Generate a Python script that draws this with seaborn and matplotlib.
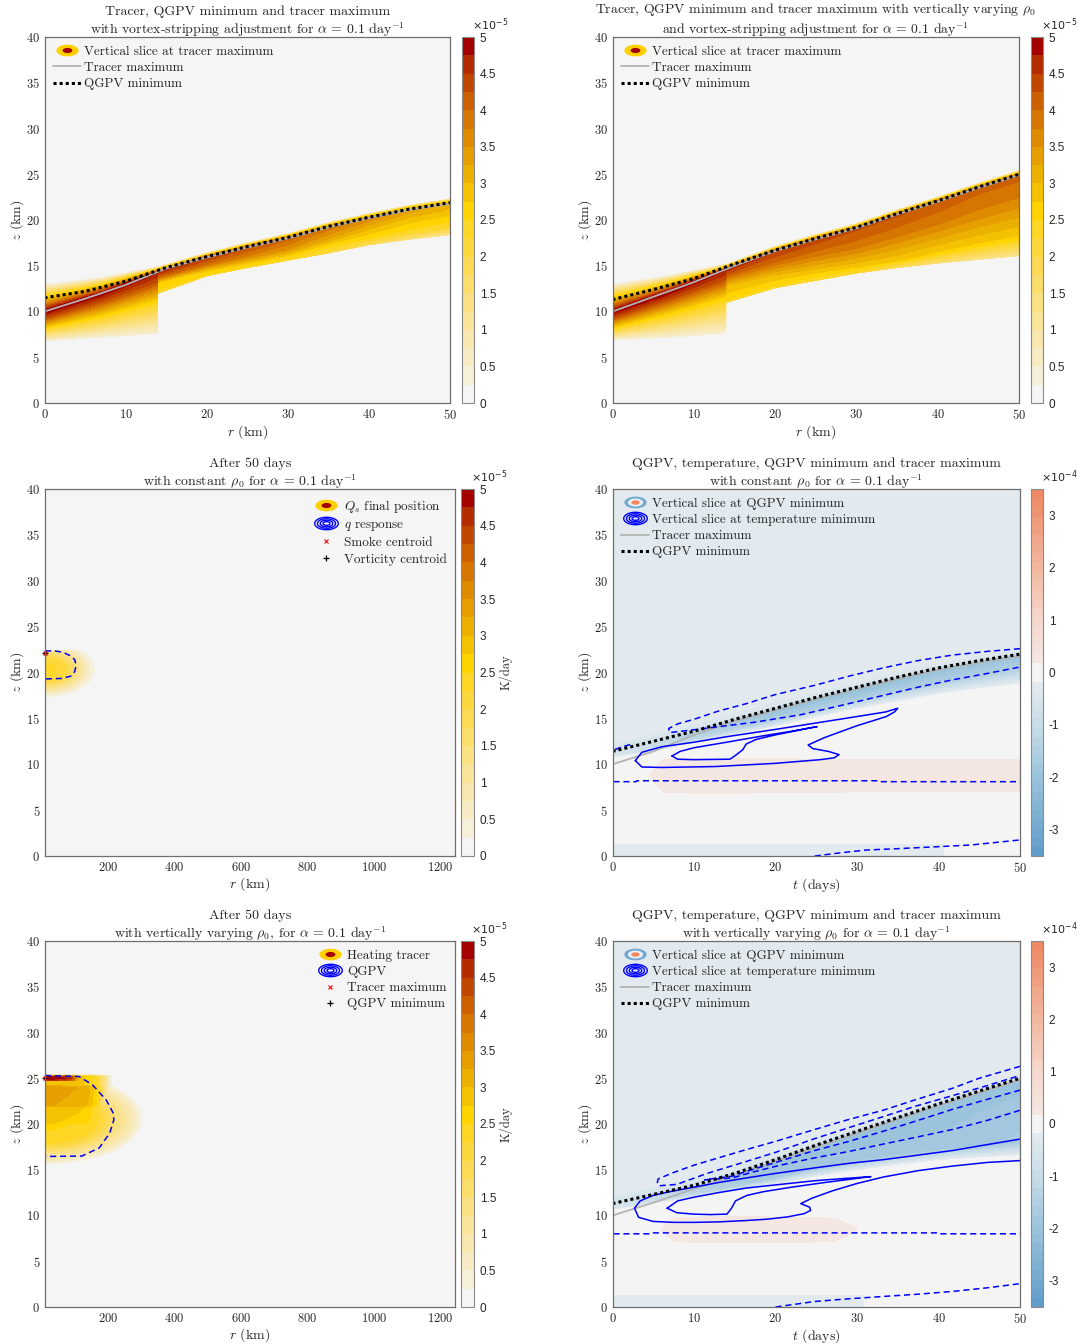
import numpy as np
import matplotlib
matplotlib.use('Agg')
import matplotlib.pyplot as plt
import seaborn as sns
from matplotlib.colors import ListedColormap, LinearSegmentedColormap
from matplotlib.lines import Line2D
from matplotlib.path import Path

sns.set_style('white')
plt.rcParams['font.family'] = ['serif']
plt.rcParams['font.serif'] = ['cmr10']
plt.rcParams['mathtext.fontset'] = 'cm'
plt.rcParams['axes.unicode_minus'] = False
plt.rcParams['axes.formatter.use_mathtext'] = True

## DATA ##

# knots along the rising layer (days or km, as labelled on each panel)
t_knots = [0, 5, 10, 15, 20, 25, 30, 35, 40, 45, 50]

# top row: heights (km) of QGPV minimum and tracer maximum
qgpv_min_const = [11.5, 12.2, 13.3, 14.8, 16.0, 17.1, 18.1, 19.3, 20.3, 21.2, 21.9]
tracer_max_const = [10.0, 11.4, 12.9, 14.7, 15.9, 17.0, 18.0, 19.2, 20.2, 21.1, 21.8]
qgpv_min_vary = [11.3, 12.4, 13.6, 15.2, 16.7, 18.0, 19.2, 20.7, 22.1, 23.6, 25.0]
tracer_max_vary = [10.0, 11.6, 13.2, 15.0, 16.6, 17.9, 19.1, 20.6, 22.0, 23.5, 24.9]

# tracer slice profile knots (heights in km, values in 1e-5)
slice_x = [0, 7, 13.9, 14.0, 20, 25, 30, 35, 40, 45, 50]
top_du = [1.6, 0.9, 0.3, 0.3, 0.3, 0.3, 0.3, 0.3, 0.3, 0.3, 0.3]
top_dt = [3.1, 1.8, 0.6, 0.6, 0.55, 0.55, 0.55, 0.55, 0.55, 0.55, 0.55]

c_peak = [5.0, 5.0, 4.8, 4.7, 4.5, 4.3, 4.1, 3.9, 3.7, 3.4, 3.2]
c_dl1 = [0.8, 1.0, 1.2, 0.6, 0.8, 1.0, 1.2, 1.2, 1.0, 1.0, 1.2]
c_v1 = [4.2, 4.2, 4.2, 4.0, 3.9, 3.7, 3.5, 3.3, 3.1, 2.9, 2.8]
c_dl2 = [1.8, 2.4, 3.0, 1.2, 1.4, 1.8, 2.0, 2.0, 2.2, 2.4, 2.5]
c_v2 = [2.6, 2.7, 2.7, 2.7, 2.8, 2.7, 2.6, 2.6, 2.5, 2.4, 2.3]
c_bot = [6.8, 7.2, 7.6, 12.0, 13.9, 14.8, 15.6, 16.4, 17.3, 17.9, 18.4]
c_vbot = [0.4, 0.4, 0.4, 2.4, 2.4, 2.4, 2.3, 2.1, 1.8, 1.4, 1.2]

v_peak = [5.0, 5.0, 4.8, 4.7, 4.5, 4.4, 4.3, 4.3, 4.2, 4.1, 4.1]
v_dl1 = [0.8, 1.0, 1.2, 0.8, 1.2, 1.6, 2.0, 2.3, 2.5, 2.7, 2.8]
v_v1 = [4.2, 4.2, 4.2, 4.0, 4.0, 3.9, 3.85, 3.8, 3.75, 3.7, 3.7]
v_dl2 = [1.8, 2.4, 3.0, 1.8, 2.6, 3.4, 4.2, 5.0, 5.6, 6.2, 6.8]
v_v2 = [2.6, 2.7, 2.7, 3.0, 3.0, 2.9, 2.8, 2.8, 2.7, 2.7, 2.7]
v_bot = [6.9, 7.2, 7.6, 11.0, 12.6, 13.4, 14.2, 14.8, 15.3, 15.7, 16.1]
v_vbot = [0.4, 0.4, 0.4, 2.4, 2.4, 2.3, 2.2, 1.8, 1.5, 1.3, 1.2]

# heating blobs after 50 days: (r centre, z centre, r radius, up radius, down radius, top cut)
blob_c_shape = (10.6, 20.3, 148, 3.0, 2.9, 22.45)
blob_c_d = [0, 0.2, 0.45, 0.6, 0.75, 0.9, 1.0, 1.05]
blob_c_v = [2.35, 2.28, 2.0, 1.5, 1.0, 0.5, 0.25, 0.0]
blob_v_shape = (10.6, 20.5, 288, 5.0, 4.8, 25.4)
blob_v_d = [0, 0.5, 0.6, 0.7, 0.8, 0.9, 1.0, 1.04]
blob_v_v = [2.6, 2.4, 2.1, 1.6, 1.2, 0.8, 0.3, 0.0]
# heating tracer piled under its top (z profile times r taper)
cap_v_z = [19.5, 20.1, 21.9, 22.0, 24.0, 24.2, 25.2, 25.4]
cap_v_h = [0.0, 2.8, 3.0, 3.3, 3.45, 3.0, 3.0, 0.0]
cap_v_r = [10.6, 80, 110, 140, 165, 190, 215]
cap_v_k = [1.0, 0.96, 0.94, 0.9, 0.75, 0.4, 0.0]
# thin maximum just under the top
lid_v_z = [24.6, 24.8, 25.0, 25.2, 25.4]
lid_v_h = [0.0, 4.6, 5.0, 4.8, 0.0]
lid_v_r = [10.6, 60, 90, 120, 140]
lid_v_k = [1.0, 0.97, 0.9, 0.5, 0.0]

# q response contours (dashed) and centroids
qresp_c_r = [10.6, 40, 65, 88, 100, 104, 100, 88, 60, 10.6]
qresp_c_z = [22.35, 22.35, 22.2, 21.8, 21.4, 20.8, 20.1, 19.6, 19.35, 19.3]
qresp_v_r = [10.6, 112, 153, 195, 215.6, 217.6, 205, 174, 122, 10.6]
qresp_v_z = [25.3, 25.2, 24.3, 22.6, 21.2, 20.45, 19.0, 17.4, 16.5, 16.45]
centroid_c = (12, 22.1)
centroid_v = (12, 25.0)

# right column: QGPV (1e-4) band and temperature contours
qgpv_line_c = [11.4, 12.5, 13.6, 14.9, 16.1, 17.3, 18.4, 19.5, 20.5, 21.3, 22.0]
tracer_line_c = [10.0, 11.4, 13.2, 14.7, 15.9, 17.1, 18.2, 19.3, 20.3, 21.1, 21.8]
band_lo_c = [10.6, 11.3, 12.2, 13.1, 14.0, 15.0, 15.9, 16.7, 17.5, 18.1, 18.6]
band_pk_c = [-0.5, -1.0, -1.6, -1.9, -2.1, -2.2, -2.2, -2.2, -2.1, -2.1, -2.0]
band_d1_c = [0.6, 0.9, 1.0, 1.2, 1.3, 1.4, 1.5, 1.6, 1.7, 1.8, 1.9]
band_v1_c = [-0.4, -0.8, -1.1, -1.3, -1.5, -1.5, -1.5, -1.5, -1.5, -1.4, -1.3]
band_up_c = [-0.7, -0.7, -0.6, -0.5, -0.45, -0.4, -0.4, -0.4, -0.4, -0.4, -0.4]
pink_c_t = [2.0, 4.0, 7.0, 12, 30, 50]
pink_c_f = [0.0, 0.5, 0.9, 1.0, 0.8, 0.8]
pink_c_z = [6.2, 7.0, 8.8, 10.5, 11.2]
pink_c_g = [0.0, 0.75, 1.0, 0.75, 0.0]
strip_c = (40.8, 1.35)

qgpv_line_v = [11.3, 12.3, 13.3, 14.6, 16.1, 17.7, 19.2, 20.7, 22.2, 23.6, 25.0]
tracer_line_v = [10.0, 11.4, 12.9, 14.4, 15.9, 17.5, 19.0, 20.5, 22.0, 23.4, 24.8]
band_lo_v = [10.5, 11.2, 11.9, 12.6, 13.3, 14.1, 14.8, 15.4, 15.9, 16.2, 16.4]
band_pk_v = [-0.5, -1.0, -1.5, -1.8, -2.0, -2.1, -2.1, -2.1, -2.1, -2.0, -2.0]
band_d1_v = [0.6, 0.8, 1.0, 1.5, 2.0, 2.5, 3.2, 4.0, 5.0, 6.0, 7.0]
band_v1_v = [-0.4, -0.8, -1.2, -1.5, -1.7, -1.8, -1.8, -1.8, -1.8, -1.8, -1.7]
band_up_v = [-0.7, -0.7, -0.6, -0.5, -0.45, -0.4, -0.4, -0.4, -0.4, -0.4, -0.4]
pink_v_t = [3.5, 6.0, 10, 16, 24, 30, 34]
pink_v_f = [0.0, 0.6, 0.95, 1.0, 0.9, 0.6, 0.0]
pink_v_z = [6.5, 7.2, 8.5, 9.7, 10.3]
pink_v_g = [0.0, 0.8, 1.0, 0.8, 0.0]
strip_v = (31.0, 1.35)

# temperature contours, constant rho0 (t days, z km)
tc_edge = ([0.12, 0.12], [0, 40])
tc_neg_loop = ([50, 46, 41.7, 37.5, 33.2, 29, 24.8, 20, 16.4, 13, 10, 8, 6.9, 7.0, 8.5, 12.2, 17.6,
                23.1, 28, 33.2, 37.5, 41.7, 46, 50],
               [22.6, 22.3, 21.9, 21.3, 20.5, 19.6, 18.6, 17.6, 16.6, 15.8, 14.9, 14.4, 13.9, 13.45,
                13.6, 14.0, 14.6, 15.4, 16.4, 17.5, 18.4, 19.2, 19.9, 20.6])
tc_neg_small = ([0.3, 1.2, 2.4], [11.6, 11.9, 12.2])
tc_neg_mid = ([0.12, 2.9, 3.0, 32.6, 32.7, 50], [8.1, 8.1, 8.2, 8.2, 8.1, 8.1])
tc_neg_bot = ([24.8, 28, 31.1, 35, 39.6, 44, 50], [0.0, 0.35, 0.65, 0.8, 1.0, 1.2, 1.75])
tc_pos_outer = ([2.8, 3.6, 6.0, 10.0, 14.0, 20.0, 25.0, 30.0, 33.5, 35.0, 34.6, 33.6, 30.0, 26.0, 24.0,
                 24.6, 26.5, 27.8, 27.2, 25.5, 20.0, 12.6, 6.0, 3.6, 2.8],
                [10.4, 11.3, 11.9, 12.4, 13.0, 13.8, 14.5, 15.2, 15.7, 16.1, 15.7, 15.2, 14.2, 12.9, 12.1,
                 11.7, 11.4, 11.05, 10.7, 10.5, 10.1, 9.75, 9.65, 9.7, 10.4])
tc_pos_inner = ([7.3, 8.3, 10.0, 14.0, 18.5, 22.0, 25.1, 23.9, 20.0, 17.6, 16.4, 16.0, 15.0, 14.4, 10.0,
                 8.0, 7.3],
                [10.9, 11.4, 11.8, 12.4, 13.1, 13.6, 14.1, 13.9, 13.2, 12.7, 12.2, 11.6, 10.9, 10.55,
                 10.5, 10.55, 10.9])

# temperature contours, vertically varying rho0
tv_edge = ([0.12, 0.12], [0, 40])
tv_neg_loop = ([50, 45, 41.7, 37, 33.2, 29, 24.8, 20, 16.4, 13, 10, 7.5, 5.6, 5.5, 5.7, 7.9, 11.6, 16.4,
                20, 24.8, 29, 33.2, 37, 41.7, 46, 50],
               [26.3, 25.0, 23.9, 22.6, 21.5, 20.5, 19.4, 18.1, 17.2, 16.3, 15.5, 14.7, 14.0, 13.6, 13.25,
                13.4, 14.6, 15.9, 16.9, 18.4, 19.6, 20.8, 21.9, 23.1, 24.2, 25.3])
tv_neg_b = ([50, 46, 41.7, 37.5, 33.2, 29, 24.8, 20, 16.4, 14.7, 11.3, 14.7, 17, 20.6, 24.8, 29, 33.2,
             37.5, 41.7, 46, 50],
            [23.7, 22.7, 21.6, 20.4, 19.2, 18.1, 17.1, 15.8, 14.8, 14.3, 13.9, 14.1, 14.7, 15.5, 16.3,
             17.0, 17.8, 18.6, 19.4, 20.4, 21.5])
tv_neg_mid = ([0.12, 4.5, 4.6, 40.0, 40.1, 50], [8.0, 8.0, 8.1, 8.1, 8.0, 8.0])
tv_neg_bot = ([20, 24.8, 29, 33.2, 37.5, 41.7, 46, 50], [0.0, 0.6, 0.9, 1.15, 1.4, 1.7, 2.1, 2.55])
tv_pos_outer = ([50, 45, 41.7, 37.5, 33.2, 29, 24.8, 20, 16.4, 13, 10, 7, 5, 3.4, 2.7, 3.2, 5, 7.5, 10, 13,
                 16.4, 19, 21.5, 23.5, 24.3, 24.2, 23.1, 24.5, 27, 30, 33.2, 37.5, 41.7, 46, 50],
                [18.35, 17.6, 17.1, 16.6, 16.1, 15.7, 15.2, 14.6, 14.1, 13.6, 13.1, 12.6, 12.2, 11.6,
                 10.8, 9.8, 9.35, 9.25, 9.25, 9.3, 9.45, 9.6, 9.85, 10.2, 10.55, 10.9, 11.3, 11.9, 12.7,
                 13.5, 14.2, 14.9, 15.4, 15.8, 16.0])
tv_pos_inner = ([6.7, 8, 10, 13, 16.4, 20.6, 24.8, 28.5, 31.7, 29.5, 26, 22, 18.5, 16.5, 15.1, 14.6,
                 14.05, 12, 10, 7.9, 6.7],
                [10.8, 11.6, 12.0, 12.5, 13.0, 13.4, 13.8, 14.05, 14.25, 14.0, 13.6, 13.1, 12.6, 12.2,
                 11.6, 10.8, 10.15, 10.1, 10.15, 10.3, 10.8])

## STYLE ##
W, H = 1077, 1344
TXT = '#262626'
BG = '#f5f5f5'
tracer_colors = ['#f5f5f5', '#f6efd9', '#f7ebc4', '#f8e7ae', '#f9e499', '#fae183', '#fbdd6c',
                 '#fcda55', '#fdd83d', '#fed626', '#ffd400', '#f4c200', '#ecb100', '#e59f00',
                 '#de8b00', '#d67600', '#cc5f00', '#c14600', '#b42b00', '#a30000']
cmap_tr = ListedColormap(tracer_colors)
lev_tr = np.linspace(0, 5, 21)
div = LinearSegmentedColormap.from_list('div', [
    (0.0, '#5f9bc8'), (0.214, '#9bc3dc'), (0.357, '#c8dce8'), (0.4625, '#e2eaef'),
    (0.4875, '#f5f5f5'), (0.5125, '#f5f5f5'), (0.5375, '#f4e6e1'), (0.643, '#f5d7cd'),
    (0.786, '#f2b9a0'), (1.0, '#ee8660')])
lev_q = np.linspace(-3.5, 3.5, 41)
cmap_q = ListedColormap(div((np.arange(40) + 0.5) / 40))


def box(x0, x1, y0, y1):
    return [x0 / W, 1 - y1 / H, (x1 - x0) / W, (y1 - y0) / H]


def column_field(x, z, xk, layers, below=0.0, above=0.0):
    lz = [np.interp(x, xk, np.asarray(a, float)) for a, _ in layers]
    lv = [np.interp(x, xk, np.broadcast_to(np.asarray(v, float), (len(xk),))) for _, v in layers]
    out = np.empty((len(z), len(x)))
    for j in range(len(x)):
        out[:, j] = np.interp(z, [a[j] for a in lz], [v[j] for v in lv], left=below, right=above)
    return out


def blob_field(r, z, shape, d_knots, v_knots):
    rc, zc, rr_, rup, rdn, ztop = shape
    dz = z[:, None] - zc
    dz = np.where(dz > 0, dz / rup, dz / rdn)
    d = np.hypot((r[None, :] - rc) / rr_, dz)
    val = np.interp(d, d_knots, v_knots, right=0.0)
    val[np.broadcast_to(z[:, None] > ztop, val.shape)] = 0.0
    return val


def tapered(r, z, zk, hk, rk, kk):
    return np.outer(np.interp(z, zk, hk, left=0, right=0), np.interp(r, rk, kk, right=0))


theta = np.linspace(0, 2 * np.pi, 61)
ell = Path(np.column_stack([1.9 * np.cos(theta), np.sin(theta)]))


def ell_marker(size, face, edge='none', mew=1.0):
    return Line2D([], [], ls='', marker=ell, ms=size, mfc=face, mec=edge, mew=mew)


h_tracer = (ell_marker(16, '#ffd000'), ell_marker(7, '#a30000'))
h_qgpv = (ell_marker(16, '#6fa8d1'), ell_marker(11, '#e9eef2'), ell_marker(6, '#f08a5c'))
h_rings = tuple(ell_marker(s, 'none', 'blue', 1.0) for s in (17, 13, 9, 5))
h_gray = Line2D([], [], color='#b3b3b3', lw=1.3)
h_dot = Line2D([], [], color='k', lw=2.2, ls=(0, (1, 1)))
h_x = Line2D([], [], ls='', marker='x', color='red', ms=3.2, mew=0.8)
h_plus = Line2D([], [], ls='', marker='+', color='k', ms=4.5, mew=0.9)
leg_kw = dict(frameon=False, fontsize=9.5, numpoints=1, handlelength=2.1, handletextpad=0.25,
              labelspacing=0.3, borderaxespad=0.35, borderpad=0.3)


def style_axes(ax, xlim, xticks, xlabel):
    ax.set_facecolor(BG)
    ax.set_xlim(*xlim)
    ax.set_ylim(0, 40)
    ax.set_xticks(xticks)
    ax.set_yticks(np.arange(0, 41, 5))
    ax.tick_params(length=0, labelsize=9, colors=TXT, pad=3.5)
    for s in ax.spines.values():
        s.set_color('#6e6e6e')
        s.set_linewidth(0.9)
    ax.set_xlabel(xlabel, fontsize=10, color=TXT, labelpad=1)
    ax.set_ylabel('$z$ (km)', fontsize=10, color=TXT, labelpad=0)


def add_cbar(cs, cax, ticks, labels, expo, label=None):
    cb = fig.colorbar(cs, cax=cax, ticks=ticks)
    cb.set_ticklabels(labels)
    cb.outline.set_edgecolor('#8a8a8a')
    cb.outline.set_linewidth(0.8)
    cax.tick_params(direction='in', length=3, width=0.6, colors=TXT, labelsize=8.5, pad=4)
    for t in cax.get_yticklabels():
        t.set_fontfamily('Liberation Sans')
    cax.text(0.8, 1.012, r'$\times10^{%d}$' % expo, transform=cax.transAxes, ha='left', va='bottom',
             fontsize=8, color=TXT, math_fontfamily='dejavusans')
    if label:
        cb.set_label(label, fontsize=9, color=TXT, labelpad=2)


def title(ax, text, size=10):
    ax.set_title(text, fontsize=size, color=TXT, pad=2.5, linespacing=1.15)


fig = plt.figure(figsize=(W / 100, H / 100), dpi=100)

tr_ticks = np.arange(0, 5.01, 0.5)
tr_labels = ['0', '0.5', '1', '1.5', '2', '2.5', '3', '3.5', '4', '4.5', '5']
q_ticks = [-3, -2, -1, 0, 1, 2, 3]
q_labels = ['-3', '-2', '-1', '0', '1', '2', '3']
alpha_txt = r'$\alpha\, =\, 0.1$ day$^{-1}$'

# ---- top row: tracer slices ----
xs = np.linspace(0, 50, 501)
zs = np.linspace(0, 40, 1601)
top_rows = [
    (box(44.5, 450, 37, 403), box(462, 474, 37, 403), qgpv_min_const, tracer_max_const,
     (c_peak, c_dl1, c_v1, c_dl2, c_v2, c_bot, c_vbot),
     'Tracer, QGPV minimum and tracer maximum\nwith vortex-stripping adjustment for ' + alpha_txt, 10),
    (box(612.5, 1019, 37, 403), box(1031, 1043, 37, 403), qgpv_min_vary, tracer_max_vary,
     (v_peak, v_dl1, v_v1, v_dl2, v_v2, v_bot, v_vbot),
     r'Tracer, QGPV minimum and tracer maximum with vertically varying $\rho_0$' + '\nand vortex-stripping adjustment for ' + alpha_txt, 9.9),
]
for pos, cpos, qline, tline, prof, ttl, tsize in top_rows:
    ax = fig.add_axes(pos)
    cax = fig.add_axes(cpos)
    peak_v, dl1, v1, dl2, v2, bot, vbot = [np.asarray(p, float) for p in prof]
    zpk = np.interp(slice_x, t_knots, tline)
    layers = [(bot - 0.03, 0.0), (bot, vbot), (zpk - dl2, v2), (zpk - dl1, v1), (zpk, peak_v),
              (zpk + np.asarray(top_du), 2.5), (zpk + np.asarray(top_dt), 0.0)]
    fld = column_field(xs, zs, slice_x, layers)
    cs = ax.contourf(xs, zs, fld, levels=lev_tr, cmap=cmap_tr)
    ax.plot(t_knots, tline, color='#b3b3b3', lw=1.3)
    ax.plot(t_knots, qline, color='k', lw=2.2, ls=(0, (1, 1)))
    style_axes(ax, (0, 50), np.arange(0, 51, 10), '$r$ (km)')
    title(ax, ttl, tsize)
    ax.legend([h_tracer, h_gray, h_dot], ['Vertical slice at tracer maximum', 'Tracer maximum', 'QGPV minimum'],
              loc='upper left', **leg_kw)
    add_cbar(cs, cax, tr_ticks, tr_labels, -5)

# ---- left column, rows 2-3: blobs after 50 days ----
rr = np.linspace(10.6, 1243, 900)
zb = np.linspace(0, 40, 1601)
fld_c = blob_field(rr, zb, blob_c_shape, blob_c_d, blob_c_v)
fld_v = np.maximum.reduce([blob_field(rr, zb, blob_v_shape, blob_v_d, blob_v_v),
                           tapered(rr, zb, cap_v_z, cap_v_h, cap_v_r, cap_v_k),
                           tapered(rr, zb, lid_v_z, lid_v_h, lid_v_r, lid_v_k)])
blob_rows = [
    (box(45, 455, 489, 856), box(461, 474, 489, 856), fld_c, (qresp_c_r, qresp_c_z), centroid_c,
     'After 50 days\n' + r'with constant $\rho_0$ for ' + alpha_txt,
     [r'$Q_s$ final position', r'$q$ response', 'Smoke centroid', 'Vorticity centroid']),
    (box(45, 455, 941, 1307), box(461, 474, 941, 1307), fld_v, (qresp_v_r, qresp_v_z), centroid_v,
     'After 50 days\n' + r'with vertically varying $\rho_0$, for ' + alpha_txt,
     ['Heating tracer', 'QGPV', 'Tracer maximum', 'QGPV minimum']),
]
for pos, cpos, fld, qresp, cen, ttl, labels in blob_rows:
    ax = fig.add_axes(pos)
    cax = fig.add_axes(cpos)
    cs = ax.contourf(rr, zb, fld, levels=lev_tr, cmap=cmap_tr)
    ax.plot(*qresp, color='blue', lw=1.1, ls=(0, (4, 2.5)))
    ax.plot(*cen, ls='', marker='x', color='red', ms=3.5, mew=0.9, clip_on=False)
    ax.plot(*cen, ls='', marker='+', color='#3a0000', ms=5, mew=1.0, clip_on=False)
    style_axes(ax, (10.6, 1243), np.arange(200, 1201, 200), '$r$ (km)')
    title(ax, ttl)
    ax.legend([h_tracer, h_rings, h_x, h_plus], labels, loc='upper right', **leg_kw)
    add_cbar(cs, cax, tr_ticks, tr_labels, -5, 'K/day')

# ---- right column, rows 2-3: QGPV and temperature ----
tt = np.linspace(0, 50, 501)
zq = np.linspace(0, 40, 1601)
TT, ZQ = np.meshgrid(tt, zq)
q_rows = [
    (box(612.5, 1020, 489, 856), box(1031, 1043, 489, 856), qgpv_line_c, tracer_line_c,
     (band_lo_c, band_d1_c, band_v1_c, band_pk_c, band_up_c),
     (pink_c_t, pink_c_f, pink_c_z, pink_c_g), strip_c,
     [tc_neg_loop, tc_neg_small, tc_neg_mid, tc_neg_bot, tc_edge], [tc_pos_outer, tc_pos_inner],
     'QGPV, temperature, QGPV minimum and tracer maximum\n' + r'with constant $\rho_0$ for ' + alpha_txt),
    (box(612.5, 1020, 941, 1307), box(1031, 1043, 941, 1307), qgpv_line_v, tracer_line_v,
     (band_lo_v, band_d1_v, band_v1_v, band_pk_v, band_up_v),
     (pink_v_t, pink_v_f, pink_v_z, pink_v_g), strip_v,
     [tv_neg_loop, tv_neg_b, tv_neg_mid, tv_neg_bot, tv_edge], [tv_pos_outer, tv_pos_inner],
     'QGPV, temperature, QGPV minimum and tracer maximum\n' + r'with vertically varying $\rho_0$ for ' + alpha_txt),
]
for pos, cpos, qline, tline, band, pink, strip, negs, poss, ttl in q_rows:
    ax = fig.add_axes(pos)
    cax = fig.add_axes(cpos)
    lo, d1, v1, pk, up = [np.asarray(b, float) for b in band]
    ql = np.asarray(qline, float)
    layers = [(lo, -0.05), (ql - d1, v1), (ql - 0.25, pk), (ql + 0.3, up), (ql + 0.9, -0.3)]
    fld = column_field(tt, zq, t_knots, layers, below=-0.05, above=-0.3)
    pt, pf, pz, pg = pink
    fld = fld + 0.38 * np.outer(np.interp(zq, pz, pg), np.interp(tt, pt, pf))
    fld[(ZQ < strip[1]) & (TT < strip[0])] = -0.3
    cs = ax.contourf(tt, zq, fld, levels=lev_q, cmap=cmap_q)
    ax.plot(t_knots, tline, color='#b3b3b3', lw=1.3)
    for tz in negs:
        ax.plot(*tz, color='blue', lw=1.1, ls=(0, (4, 2.5)))
    for tz in poss:
        ax.plot(*tz, color='blue', lw=1.1)
    ax.plot(t_knots, qline, color='k', lw=2.2, ls=(0, (1, 1)))
    style_axes(ax, (0, 50), np.arange(0, 51, 10), '$t$ (days)')
    title(ax, ttl)
    ax.legend([h_qgpv, h_rings, h_gray, h_dot],
              ['Vertical slice at QGPV minimum', 'Vertical slice at temperature minimum', 'Tracer maximum',
               'QGPV minimum'], loc='upper left', **leg_kw)
    add_cbar(cs, cax, q_ticks, q_labels, -4)

fig.savefig('out.png', dpi=100)
